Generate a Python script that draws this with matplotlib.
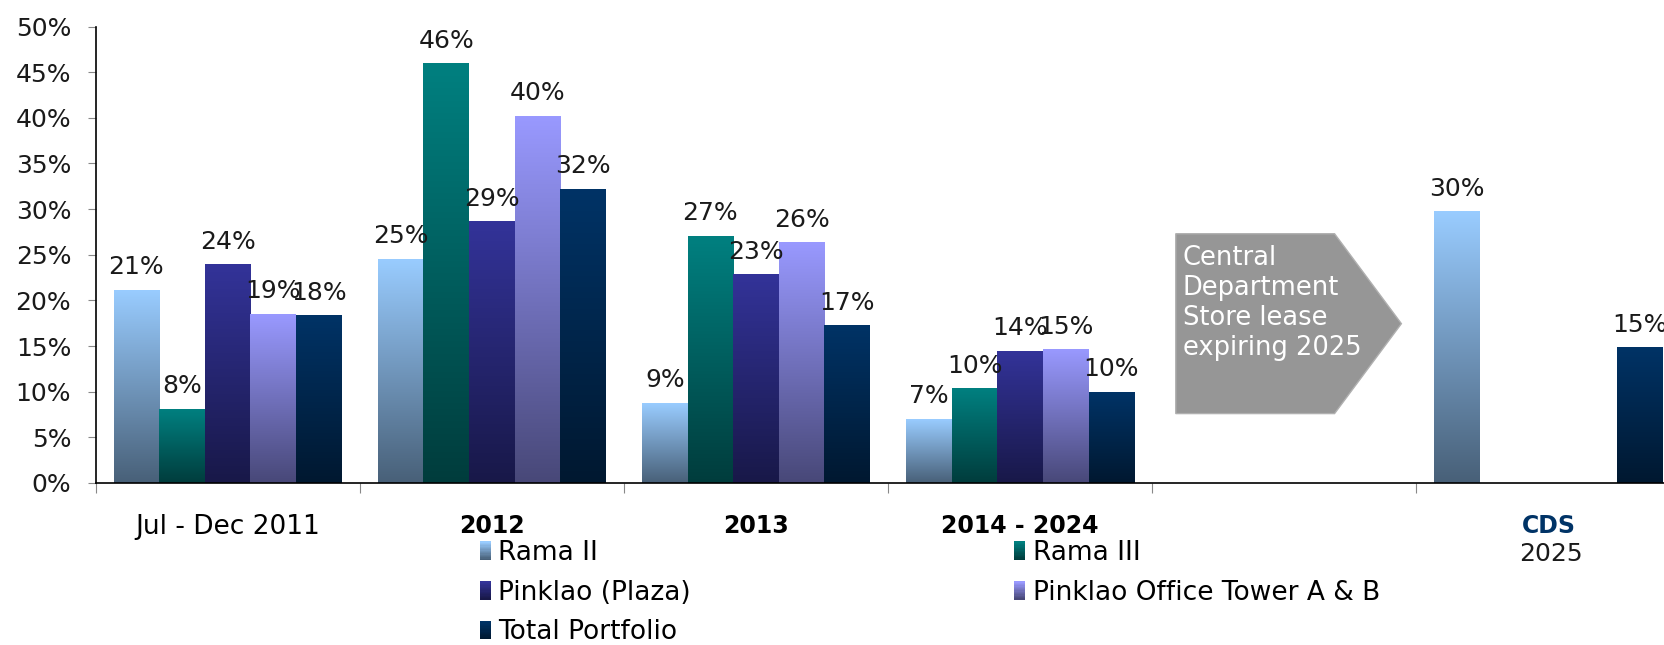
import numpy as np
import matplotlib
matplotlib.use("Agg")
import matplotlib.pyplot as plt
import matplotlib.colors as mcolors
from matplotlib.patches import Rectangle, Polygon, Patch
from matplotlib.legend_handler import HandlerBase
from matplotlib.ticker import FixedLocator, FuncFormatter

plt.rcParams['font.family'] = ['DejaVu Sans']

nan = np.nan
categories = ["Jul - Dec 2011", "2012", "2013", "2014 - 2024", "", "CDS"]
series_names = ["Rama II", "Rama III", "Pinklao (Plaza)",
                "Pinklao Office Tower A & B", "Total Portfolio"]
rama2 = [21.1, 24.5, 8.7, 7.0, nan, 29.7]
rama3 = [8.1, 45.9, 27.0, 10.3, nan, nan]
plaza = [23.9, 28.6, 22.8, 14.4, nan, nan]
office = [18.5, 40.2, 26.3, 14.6, nan, nan]
total = [18.3, 32.2, 17.2, 9.9, nan, 14.8]
colors = ["#99CCFF", "#008080", "#333399", "#9999FF", "#003366"]

series = [rama2, rama3, plaza, office, total]
dark = 0.47


def grad_image(top):
    top = np.array(mcolors.to_rgb(top))
    f = np.linspace(1.0, dark, 256)[:, None, None]
    return f * top[None, None, :]


class GradHandler(HandlerBase):
    def create_artists(self, legend, orig_handle, xdescent, ydescent,
                       width, height, fontsize, trans):
        top = np.array(mcolors.to_rgb(orig_handle.get_facecolor()))
        n = 14
        arts = []
        for k in range(n):
            c = top * (dark + (1 - dark) * k / (n - 1))
            arts.append(Rectangle((-xdescent, -ydescent + height * k / n),
                                  width, height / n * 1.05, facecolor=c,
                                  edgecolor='none', transform=trans))
        return arts


fig = plt.figure(figsize=(16.64, 6.45), dpi=100)
ax = fig.add_axes([0.0574, 0.2512, 0.9526, 0.7077])

x = np.arange(len(categories))
w = 0.1727
off = 0.0683
for j, vals in enumerate(series):
    xs = x + off + w * (j + 0.5)
    bars = ax.bar(xs, np.nan_to_num(vals), w, color='none', zorder=1)
    img = grad_image(colors[j])
    for p, v in zip(bars.patches, vals):
        if np.isnan(v):
            continue
        x0 = p.get_x()
        ax.imshow(img, extent=[x0, x0 + w, 0, v], aspect='auto',
                  origin='upper', interpolation='bilinear', zorder=2)
        ax.annotate(f"{int(v + 0.5)}%", (x0 + w / 2, v), xytext=(0, 8),
                    textcoords='offset points', ha='center', va='bottom',
                    fontsize=18, color='#1a1a1a', zorder=3)

ax.set_xlim(0, len(categories))
ax.set_ylim(0, 50)

# axes styling
for s in ['top', 'right']:
    ax.spines[s].set_visible(False)
ax.spines['left'].set_color('black')
ax.spines['bottom'].set_color('black')
ax.spines['left'].set_linewidth(1.2)
ax.spines['bottom'].set_linewidth(1.2)

ax.set_yticks(np.arange(0, 51, 5))
ax.yaxis.set_major_formatter(FuncFormatter(lambda v, _: f"{v:.0f}%"))
ax.tick_params(axis='y', length=5.5, color='#888888', pad=12,
               labelsize=18, labelcolor='#1a1a1a')

ax.xaxis.set_major_locator(FixedLocator(np.arange(len(categories) + 1)))
ax.xaxis.set_minor_locator(FixedLocator(x + 0.5))
ax.tick_params(axis='x', which='major', length=7.5, color='#888888',
               labelbottom=False)
ax.tick_params(axis='x', which='minor', length=0, pad=22, labelsize=19)
ax.set_xticks(x + 0.5, categories, minor=True)
for i, lab in enumerate(ax.get_xticklabels(minor=True)):
    if i in (1, 2, 3):
        lab.set_fontweight('bold')
        lab.set_fontsize(17)
    if i == 5:
        lab.set_fontweight('bold')
        lab.set_fontsize(17)
        lab.set_color('#003366')
ax.text(5.51, -0.13, "2025", transform=ax.get_xaxis_transform(),
        ha='center', va='top', fontsize=18, color='#1a1a1a')

# arrow callout
arrow = Polygon([(4.089, 27.3), (4.690, 27.3), (4.943, 17.45),
                 (4.690, 7.6), (4.089, 7.6)], closed=True,
                facecolor='#969696', edgecolor='#b0b0b0', lw=1, zorder=2)
ax.add_patch(arrow)
ax.text(4.116, 26.1, "Central\nDepartment\nStore lease\nexpiring 2025",
        ha='left', va='top', fontsize=18.5, color='white', linespacing=1.2,
        zorder=3)

handles = [Patch(facecolor=c, label=n) for c, n in zip(colors, series_names)]
order = [0, 2, 4, 1, 3]
fig.legend(handles=[handles[k] for k in order], loc='upper left',
           bbox_to_anchor=(480 / 1664, 1 - 540 / 645), ncol=2,
           frameon=False, fontsize=19, handlelength=0.4, handleheight=0.7,
           handletextpad=0.3, labelspacing=0.52, columnspacing=12.25,
           borderpad=0, borderaxespad=0,
           handler_map={Patch: GradHandler()})

fig.savefig("out.png", dpi=100)
